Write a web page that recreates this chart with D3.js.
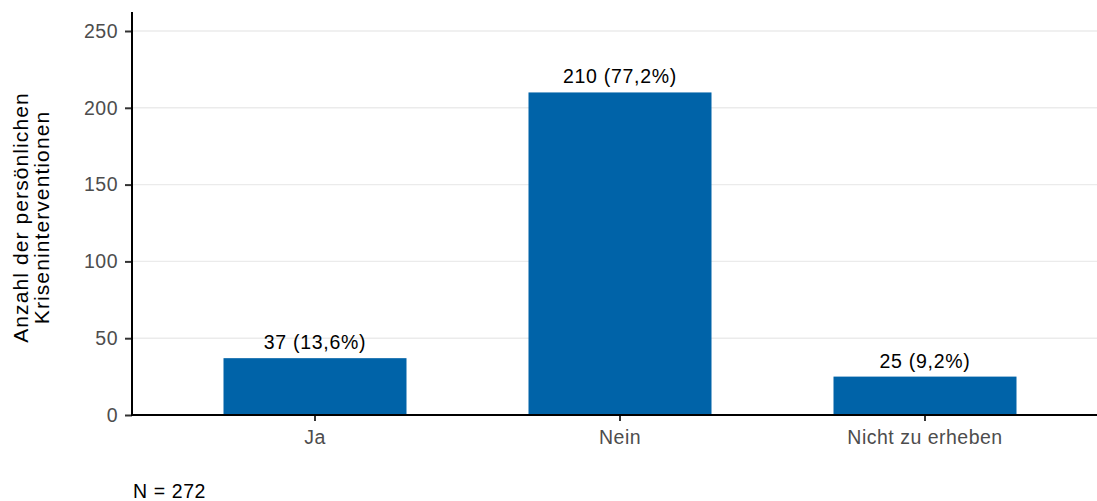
<!DOCTYPE html>
<html><head><meta charset="utf-8">
<script src="https://cdn.jsdelivr.net/npm/d3@7"></script>
<style>body{margin:0;background:#fff}svg{display:block;font-family:"Liberation Sans",Arial,sans-serif}</style>
</head><body><svg id="c" width="1097" height="501"></svg>
<script>
const categories = ["Ja", "Nein", "Nicht zu erheben"];
const counts = [37, 210, 25];
const percents = ["13,6%", "77,2%", "9,2%"];
const yTicks = [0, 50, 100, 150, 200, 250];
const yTitle = ["Anzahl der persönlichen", "Kriseninterventionen"];
const caption = "N = 272";

const svg = d3.select("#c");
const mLeft = 132, mRight = 1108, mTop = 12, mBottom = 415;
const x = d3.scaleBand().domain(categories).range([mLeft, mRight]).paddingInner(0.4).paddingOuter(0.3);
const y = d3.scaleLinear().domain([0, 250]).range([mBottom, 31]);
const FF = "Liberation Sans, Arial, sans-serif";

// gridlines
svg.append("g").selectAll("line").data(yTicks).join("line")
  .attr("x1", mLeft).attr("x2", 1097).attr("y1", d => y(d)).attr("y2", d => y(d))
  .attr("stroke", "#ebebeb").attr("stroke-width", 1.4);

// bars
svg.append("g").selectAll("rect").data(categories).join("rect")
  .attr("x", d => x(d)).attr("width", x.bandwidth())
  .attr("y", (d, i) => y(counts[i])).attr("height", (d, i) => mBottom - y(counts[i]))
  .attr("fill", "#0063a8");

// bar labels
svg.append("g").selectAll("text").data(categories).join("text")
  .attr("x", d => x(d) + x.bandwidth() / 2).attr("y", (d, i) => y(counts[i]) - 9)
  .attr("text-anchor", "middle").attr("font-size", 19.5).attr("letter-spacing", 0.7).attr("fill", "#000")
  .text((d, i) => `${counts[i]} (${percents[i]})`);

// y axis
const ya = svg.append("g").attr("transform", `translate(${mLeft},0)`)
  .call(d3.axisLeft(y).tickValues(yTicks).tickSize(7).tickPadding(7));
ya.select(".domain").remove();
ya.selectAll(".tick line").attr("stroke", "#333").attr("stroke-width", 2);
ya.selectAll(".tick text").attr("font-size", 19.5).attr("letter-spacing", 0.5).attr("fill", "#4d4d4d").attr("font-family", FF);
svg.append("line").attr("x1", mLeft).attr("x2", mLeft).attr("y1", mTop).attr("y2", mBottom + 1)
  .attr("stroke", "#000").attr("stroke-width", 2);

// x axis
const xa = svg.append("g").attr("transform", `translate(0,${mBottom})`)
  .call(d3.axisBottom(x).tickSize(6).tickPadding(23));
xa.select(".domain").remove();
xa.selectAll(".tick line").attr("stroke", "#333").attr("stroke-width", 2);
xa.selectAll(".tick text").attr("font-size", 19.5).attr("letter-spacing", 0.5).attr("fill", "#4d4d4d").attr("font-family", FF).attr("dy", 0);
svg.append("line").attr("x1", mLeft - 1).attr("x2", 1097).attr("y1", mBottom).attr("y2", mBottom)
  .attr("stroke", "#000").attr("stroke-width", 2);

// y title
const yt = svg.append("text").attr("transform", `translate(28,217.5) rotate(-90)`)
  .attr("text-anchor", "middle").attr("font-size", 21).attr("letter-spacing", 1.1).attr("fill", "#000");
yt.selectAll("tspan").data(yTitle).join("tspan").attr("x", 0).attr("dy", (d, i) => i === 0 ? 0 : 21).text(d => d);

// caption
svg.append("text").attr("x", 133).attr("y", 498).attr("font-size", 19.5).attr("letter-spacing", 0.6).attr("fill", "#000").text(caption);
</script></body></html>
